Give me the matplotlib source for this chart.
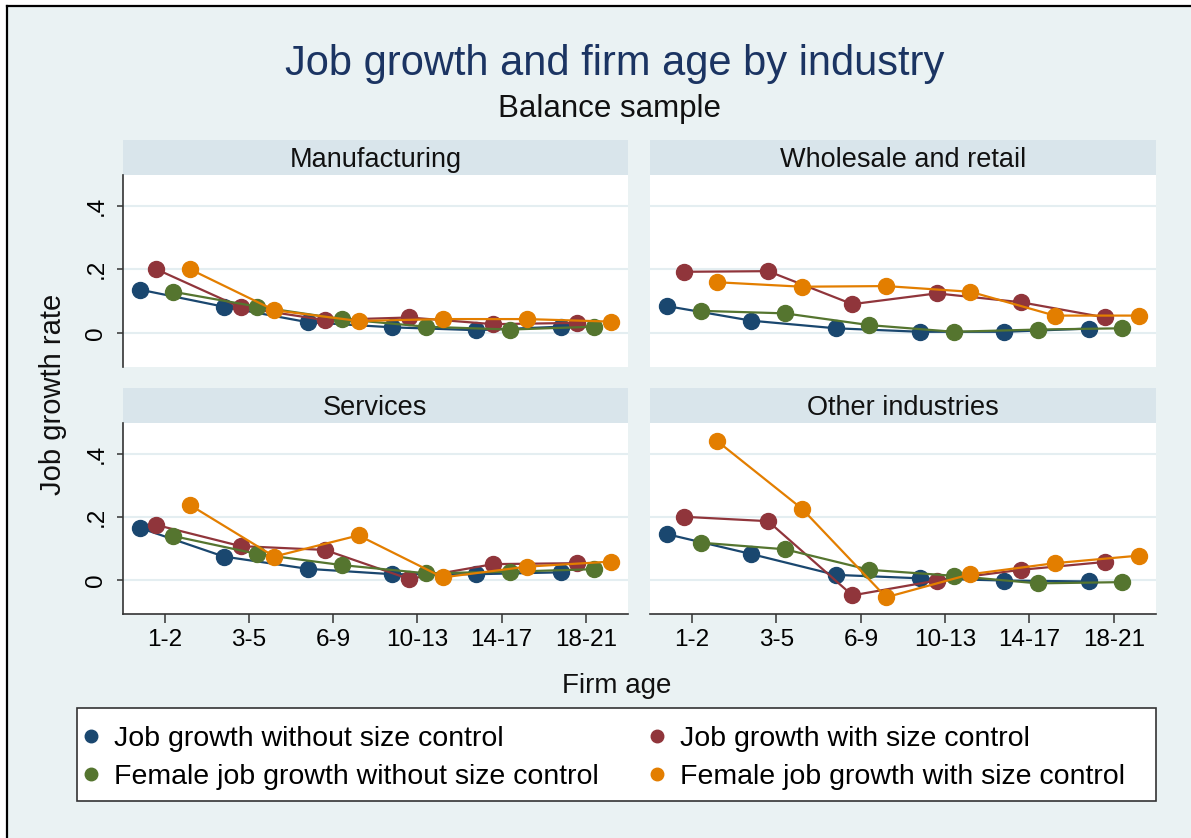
import matplotlib.pyplot as plt
from matplotlib.lines import Line2D
from matplotlib.patches import Rectangle

plt.rcParams['font.family'] = ['Liberation Sans', 'DejaVu Sans']

W, H = 1191, 838

age_groups = ['1-2', '3-5', '6-9', '10-13', '14-17', '18-21']
industries = ['Manufacturing', 'Wholesale and retail', 'Services', 'Other industries']
series_names = ['Job growth without size control', 'Job growth with size control',
                'Female job growth without size control', 'Female job growth with size control']
series_colors = ['#1a476f', '#90353b', '#55752f', '#e37e00']

# job growth rate by firm age group
manuf_all = [0.136, 0.082, 0.033, 0.017, 0.008, 0.019]
manuf_all_size = [0.200, 0.080, 0.040, 0.048, 0.027, 0.031]
manuf_fem = [0.129, 0.082, 0.043, 0.019, 0.010, 0.019]
manuf_fem_size = [0.200, 0.071, 0.037, 0.043, 0.043, 0.035]

trade_all = [0.084, 0.038, 0.014, 0.003, 0.003, 0.013]
trade_all_size = [0.192, 0.194, 0.090, 0.124, 0.096, 0.048]
trade_fem = [0.069, 0.061, 0.024, 0.003, 0.010, 0.014]
trade_fem_size = [0.159, 0.145, 0.147, 0.129, 0.054, 0.054]

serv_all = [0.165, 0.074, 0.035, 0.018, 0.018, 0.024]
serv_all_size = [0.174, 0.107, 0.095, 0.003, 0.050, 0.053]
serv_fem = [0.139, 0.082, 0.047, 0.021, 0.026, 0.034]
serv_fem_size = [0.237, 0.074, 0.141, 0.008, 0.042, 0.058]

other_all = [0.145, 0.082, 0.016, 0.005, -0.002, -0.005]
other_all_size = [0.200, 0.186, -0.049, -0.002, 0.032, 0.057]
other_fem = [0.118, 0.097, 0.032, 0.013, -0.011, -0.007]
other_fem_size = [0.439, 0.226, -0.055, 0.018, 0.053, 0.077]

panel_data = [
    [manuf_all, manuf_all_size, manuf_fem, manuf_fem_size],
    [trade_all, trade_all_size, trade_fem, trade_fem_size],
    [serv_all, serv_all_size, serv_fem, serv_fem_size],
    [other_all, other_all_size, other_fem, other_fem_size],
]

bg = '#eaf2f3'
strip_col = '#d9e5eb'
axis_col = '#333333'
dodge = [-0.3, -0.1, 0.1, 0.3]


def box(x0, y0, x1, y1):
    # pixel box (top-left origin) -> figure fraction rect
    return [x0 / W, 1 - y1 / H, (x1 - x0) / W, (y1 - y0) / H]


fig = plt.figure(figsize=(W / 100, H / 100), dpi=100)
fig.patch.set_facecolor('white')
fig.add_artist(Rectangle((8 / W, 0), 1, 1 - 7 / H, transform=fig.transFigure,
                         facecolor=bg, edgecolor='none', zorder=-10))
fig.add_artist(Line2D([7 / W, 7 / W], [0, 1 - 6 / H], color='black', lw=1.6))
fig.add_artist(Line2D([7 / W, 1], [1 - 6 / H, 1 - 6 / H], color='black', lw=1.6))

rects = [box(122.7, 175, 628, 367), box(650, 175, 1156, 367),
         box(122.7, 423, 628, 614), box(650, 423, 1156, 614)]

for i, (rect, name) in enumerate(zip(rects, industries)):
    row, col = divmod(i, 2)
    ax = fig.add_axes(rect)
    ax.set_facecolor('white')
    h_px = rect[3] * H

    for j, vals in enumerate(panel_data[i]):
        xs = [k + dodge[j] for k in range(len(age_groups))]
        ax.plot(xs, vals, color=series_colors[j], lw=1.6, marker='o', ms=11.5,
                mec=series_colors[j], clip_on=False, zorder=3 + j)

    ax.set_xlim(-0.5, 5.5)
    ax.set_ylim(-0.108, 0.497)
    ax.set_yticks([0, 0.2, 0.4])
    ax.set_yticklabels(['0', '.2', '.4'])
    ax.set_xticks(range(len(age_groups)))
    ax.set_xticklabels(age_groups)
    ax.yaxis.grid(True, color='#e4eef1', lw=1.5)
    ax.set_axisbelow(True)

    for s in ['top', 'right']:
        ax.spines[s].set_visible(False)
    ax.spines['left'].set_visible(col == 0)
    ax.spines['bottom'].set_visible(row == 1)
    for s in ['left', 'bottom']:
        ax.spines[s].set_color(axis_col)
        ax.spines[s].set_linewidth(1.2)

    ax.tick_params(axis='y', left=(col == 0), labelleft=(col == 0), length=4,
                   width=1.1, color=axis_col, labelsize=17.5, pad=7, labelrotation=90)
    for lbl in ax.get_yticklabels():
        lbl.set_va('center')
    ax.tick_params(axis='x', bottom=(row == 1), labelbottom=(row == 1), length=6.5,
                   width=1.1, color=axis_col, labelsize=17.5, pad=4)

    # header strip
    ax.add_patch(Rectangle((0, 1), 1, 35 / h_px, transform=ax.transAxes, clip_on=False,
                           facecolor=strip_col, edgecolor='none'))
    ax.text(0.5, 1 + 8.5 / h_px, name, transform=ax.transAxes, ha='center',
            va='baseline', fontsize=19.5, color='#111111')

fig.text(615 / W, 1 - 75 / H, 'Job growth and firm age by industry', ha='center',
         va='baseline', fontsize=30, color='#1b3462')
fig.text(610 / W, 1 - 117 / H, 'Balance sample', ha='center', va='baseline',
         fontsize=22.5, color='#111111')
fig.text(617 / W, 1 - 693 / H, 'Firm age', ha='center', va='baseline',
         fontsize=20, color='#111111')
fig.text(53 / W, 1 - 394 / H, 'Job growth rate', ha='center', va='center',
         rotation=90, fontsize=21, color='#111111')

# legend, frame drawn separately so it can span the full graph width
fig.add_artist(Rectangle((77 / W, 1 - 801 / H), (1156 - 77) / W, (801 - 708) / H,
                         transform=fig.transFigure, facecolor='white',
                         edgecolor=axis_col, lw=1.2, zorder=1))
order = [0, 2, 1, 3]
handles = [Line2D([], [], ls='none', marker='o', ms=9, color=series_colors[k]) for k in order]
labels = [series_names[k] for k in order]
leg = fig.legend(handles, labels, loc='center left', bbox_to_anchor=(84 / W, 1 - 758 / H),
                 ncol=2, frameon=False, fontsize=20.5, handlelength=0.5,
                 handletextpad=0.55, columnspacing=1.8, borderpad=0, borderaxespad=0,
                 labelspacing=0.45)
leg.set_zorder(5)

fig.savefig('out.png', dpi=100)
